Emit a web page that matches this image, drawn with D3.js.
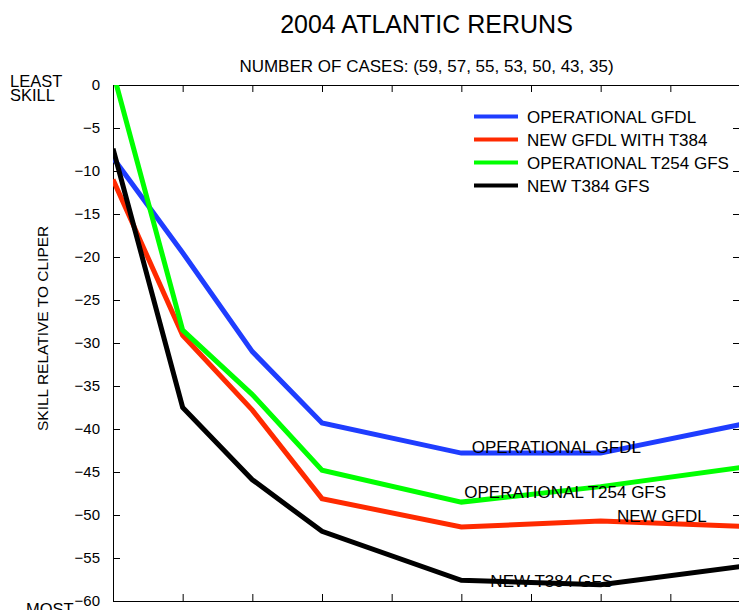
<!DOCTYPE html>
<html>
<head>
    <meta charset="utf-8">
    <script src="https://d3js.org/d3.v7.min.js"></script>
    <title>2004 Atlantic Reruns</title>
    <style>
        * {
            margin: 0;
            padding: 0;
        }

        body {
            background: #fff;
        }

        svg {
            display: block;
            font-family: "Liberation Sans", Arial, Helvetica, sans-serif;
        }
    </style>
</head>
<body>
    <div id="chart"></div>
    <script>

        // forecast hours (x) and skill values per model
        var hours = [12, 24, 36, 48, 72, 96, 120];
        var tickHours = [12, 24, 36, 48, 60, 72, 84, 96, 108, 120];
        var yTicks = [0, -5, -10, -15, -20, -25, -30, -35, -40, -45, -50, -55, -60];

        var opGfdl = [-8.45, -19.5, -31.0, -39.3, -42.8, -42.8, -39.5];
        var newGfdl = [-11.0, -29.1, -37.8, -48.1, -51.4, -50.7, -51.3];
        var opGfs = [1.5, -28.5, -36.0, -44.8, -48.5, -46.7, -44.5];
        var newGfs = [-7.4, -37.5, -45.9, -51.9, -57.6, -58.1, -56.0];

        var seriesNames = ["OPERATIONAL GFDL", "NEW GFDL WITH T384", "OPERATIONAL T254 GFS", "NEW T384 GFS"];
        var seriesValues = [opGfdl, newGfdl, opGfs, newGfs];
        var colors = ["#1f3dff", "#ff2a00", "#00ff00", "#000000"];

        // labels written on the curves (hour, skill)
        var curveLabels = ["OPERATIONAL GFDL", "OPERATIONAL T254 GFS", "NEW GFDL", "NEW T384 GFS"];
        var curveLabelHours = [73.8, 72.5, 98.8, 77.0];
        var curveLabelValues = [-42.8, -48.0, -50.8, -58.4];

        var W = 739, H = 610;
        var margin = { top: 85, right: -1, bottom: 9, left: 113 },
            width = W - margin.left - margin.right,
            height = H - margin.top - margin.bottom;

        var svg = d3.select("#chart")
            .append("svg")
            .attr("width", W)
            .attr("height", H);

        var g = svg.append("g")
            .attr("transform", "translate(" + margin.left + "," + margin.top + ")");

        var xScale = d3.scaleLinear()
            .domain([12, 120])
            .range([0, width]);

        var yScale = d3.scaleLinear()
            .domain([-60, 0])
            .range([height, 0]);

        // frame with inward ticks
        var yAxis = g.append("g")
            .call(d3.axisLeft(yScale)
                .tickValues(yTicks)
                .tickSizeInner(-7)
                .tickSizeOuter(0)
                .tickPadding(13));
        yAxis.selectAll("text")
            .style("font-size", "15px")
            .style("font-family", "'Liberation Sans', Arial, sans-serif")
            .attr("fill", "#000");

        g.append("g")
            .attr("transform", "translate(" + width + ",0)")
            .call(d3.axisRight(yScale)
                .tickValues(yTicks)
                .tickSizeInner(-7)
                .tickSizeOuter(0)
                .tickFormat(""));

        // hour labels sit below the visible area in the original, so none here
        g.append("g")
            .attr("transform", "translate(0," + height + ")")
            .call(d3.axisBottom(xScale)
                .tickValues(tickHours)
                .tickSizeInner(-7)
                .tickSizeOuter(0)
                .tickFormat(""));

        g.append("g")
            .call(d3.axisTop(xScale)
                .tickValues(tickHours)
                .tickSizeInner(-7)
                .tickSizeOuter(0)
                .tickFormat(""));

        g.selectAll(".domain").attr("stroke", "#000");
        g.selectAll(".tick line").attr("stroke", "#000");

        // clip the lines to the plot area
        svg.append("clipPath")
            .attr("id", "plotclip")
            .append("rect")
            .attr("x", 0)
            .attr("y", 0)
            .attr("width", width)
            .attr("height", height);

        var line = d3.line()
            .x(function (d, i) { return xScale(hours[i]); })
            .y(function (d) { return yScale(d); });

        var lines = g.append("g").attr("clip-path", "url(#plotclip)");
        seriesValues.forEach(function (vals, i) {
            lines.append("path")
                .datum(vals)
                .attr("d", line)
                .attr("fill", "none")
                .attr("stroke", colors[i])
                .attr("stroke-width", 5);
        });

        // labels on the curves
        g.selectAll(".clabel")
            .data(curveLabels)
            .enter()
            .append("text")
            .attr("x", function (d, i) { return xScale(curveLabelHours[i]); })
            .attr("y", function (d, i) { return yScale(curveLabelValues[i]); })
            .style("font-size", "17px")
            .attr("fill", "#000")
            .text(function (d) { return d; });

        // legend
        var legend = svg.append("g").attr("transform", "translate(474,123)");
        seriesNames.forEach(function (name, i) {
            legend.append("line")
                .attr("x1", 0)
                .attr("x2", 44)
                .attr("y1", i * 23 - 6.5)
                .attr("y2", i * 23 - 6.5)
                .attr("stroke", colors[i])
                .attr("stroke-width", 4);
            legend.append("text")
                .attr("x", 53)
                .attr("y", i * 23)
                .style("font-size", "17px")
                .text(name);
        });

        // titles
        svg.append("text")
            .attr("x", margin.left + width / 2)
            .attr("y", 33)
            .attr("text-anchor", "middle")
            .style("font-size", "25px")
            .text("2004 ATLANTIC RERUNS");

        svg.append("text")
            .attr("x", margin.left + width / 2)
            .attr("y", 71.5)
            .attr("text-anchor", "middle")
            .style("font-size", "17px")
            .text("NUMBER OF CASES: (59, 57, 55, 53, 50, 43, 35)");

        svg.append("text")
            .attr("transform", "translate(48," + (margin.top + yScale(-28.3)) + ") rotate(-90)")
            .attr("text-anchor", "middle")
            .style("font-size", "15.5px")
            .text("SKILL RELATIVE TO CLIPER");

        svg.append("text").attr("x", 10).attr("y", 87).style("font-size", "16.5px").text("LEAST");
        svg.append("text").attr("x", 10).attr("y", 101).style("font-size", "16.5px").text("SKILL");
        svg.append("text").attr("x", 26).attr("y", 615).style("font-size", "16.5px").text("MOST");

    </script>
</body>
</html>
